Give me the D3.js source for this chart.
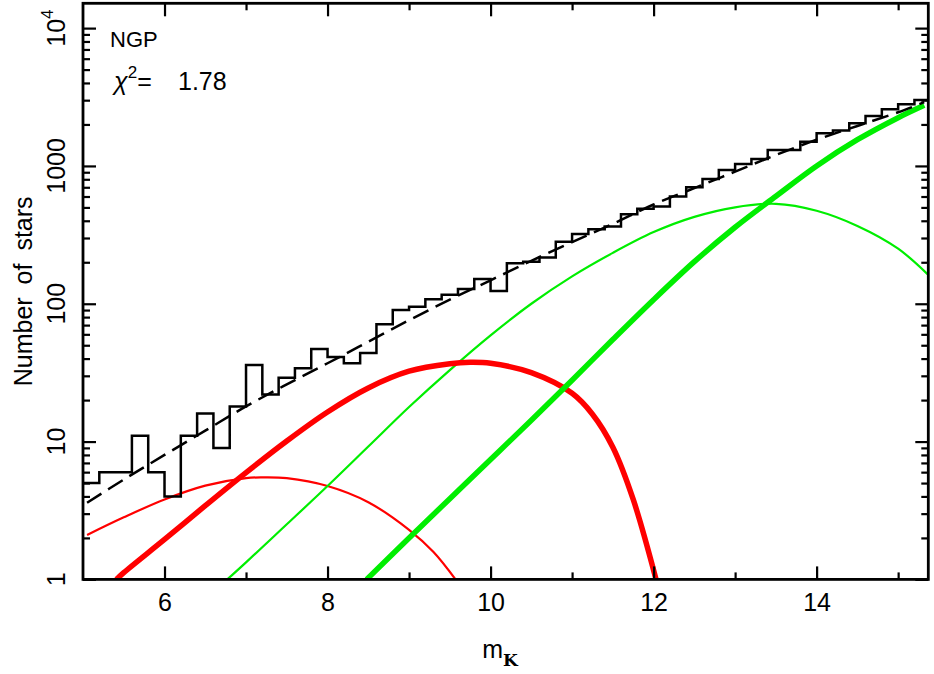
<!DOCTYPE html>
<html>
<head>
<meta charset="utf-8">
<script src="https://cdn.jsdelivr.net/npm/d3@7"></script>
<style>
  body { margin: 0; background: #fff; }
  svg { display: block; font-family: "Liberation Sans", Arial, sans-serif; }
  .domain { display: none; }
  .tick line { stroke: #000; stroke-width: 2.2; }
</style>
</head>
<body>
<div id="chart"></div>
<script>
// histogram of star counts, 0.2 mag bins (edges)
let binEdges = [5.0, 5.2, 5.4, 5.6, 5.8, 6.0, 6.2, 6.4, 6.6, 6.8, 7.0, 7.2, 7.4, 7.6, 7.8,
  8.0, 8.2, 8.4, 8.6, 8.8, 9.0, 9.2, 9.4, 9.6, 9.8, 10.0, 10.2, 10.4, 10.6, 10.8,
  11.0, 11.2, 11.4, 11.6, 11.8, 12.0, 12.2, 12.4, 12.6, 12.8, 13.0, 13.2, 13.4, 13.6,
  13.8, 14.0, 14.2, 14.4, 14.6, 14.8, 15.0, 15.2, 15.4];
let binCounts = [5, 6, 6, 11, 6, 4, 11, 16, 9, 18, 36, 22, 29, 34, 47,
  41, 37, 44, 71, 90, 95, 108, 116, 128, 151, 124, 197, 202, 217, 282,
  321, 347, 363, 446, 488, 507, 599, 700, 805, 935, 1033, 1124, 1306, 1306,
  1500, 1727, 1804, 2042, 2307, 2578, 2805, 3014];

// total model (dashed)
let totalMag = [5.05, 5.5, 6.0, 6.5, 7.0, 7.5, 8.0, 8.5, 9.0, 9.5, 10.0, 10.5, 11.0, 11.5, 12.0, 12.5, 13.0, 13.5, 14.0, 14.5, 15.0, 15.32];
let totalVal = [3.6, 5.3, 8.0, 12, 18, 26, 37, 53, 76, 107, 148, 205, 280, 380, 525, 690, 910, 1200, 1550, 1950, 2450, 2900];

// thin red component
let redThinMag = [5.05, 5.5, 6.0, 6.5, 7.0, 7.2, 7.5, 8.0, 8.5, 9.0, 9.3, 9.57];
let redThinVal = [2.1, 2.82, 3.8, 4.79, 5.43, 5.5, 5.43, 4.76, 3.63, 2.29, 1.58, 1.0];

// thick red component
let redThickMag = [5.41, 5.5, 6.0, 6.5, 7.0, 7.5, 8.0, 8.5, 9.0, 9.5, 9.75, 10.0, 10.5, 11.0, 11.25, 11.5, 11.75, 12.03];
let redThickVal = [1.0, 1.12, 1.95, 3.43, 5.96, 10.1, 16.4, 24.5, 32.4, 36.7, 37.6, 37.0, 31.6, 22.4, 15.8, 9.1, 3.8, 1.0];

// thin green component
let greenThinMag = [6.77, 7.0, 7.5, 8.0, 8.5, 9.0, 9.5, 10.0, 10.5, 11.0, 11.5, 12.0, 12.5, 13.0, 13.5, 14.0, 14.5, 15.0, 15.37];
let greenThinVal = [1.0, 1.33, 2.51, 4.76, 9.2, 17.8, 33, 59, 100, 158, 234, 331, 427, 501, 531, 473, 367, 251, 162];

// thick green component
let greenThickMag = [8.48, 9.0, 9.5, 10.0, 10.5, 11.0, 11.5, 12.0, 12.5, 13.0, 13.5, 14.0, 14.5, 15.0, 15.32];
let greenThickVal = [1.0, 2.0, 3.85, 7.41, 14.3, 27.9, 55, 107, 202, 359, 603, 1000, 1549, 2239, 2754];

let xMajor = [6, 8, 10, 12, 14];
let xMinor = [7, 9, 11, 13, 15];
let yMajor = [1, 10, 100, 1000, 10000];
let yLabels = ['1', '10', '100', '1000', '10^4'];

let W = 934, H = 674;
let L = 83, R = 928.3, T = 3.3, B = 579.4;

let svg = d3.select('#chart').append('svg').attr('width', W).attr('height', H);

let x = d3.scaleLinear().domain([5, 15.37]).range([L, R]);
let y = d3.scaleLog().domain([1, Math.pow(10, 4.18)]).range([B, T]);

// minor y ticks 2..9 per decade
let yMinor = [];
[1, 10, 100, 1000].forEach(d => { for (let k = 2; k <= 9; k++) yMinor.push(d * k); });

svg.append('clipPath').attr('id', 'clip').append('rect')
    .attr('x', L).attr('y', T).attr('width', R - L).attr('height', B - T);
let marks = svg.append('g').attr('clip-path', 'url(#clip)');

function curve(mags, vals) {
  return d3.line().x((d, i) => x(mags[i])).y(d => y(d)).curve(d3.curveCatmullRom.alpha(0.5))(vals);
}

// components
marks.append('path').attr('d', curve(redThinMag, redThinVal))
    .attr('fill', 'none').attr('stroke', '#ff0000').attr('stroke-width', 2.2);
marks.append('path').attr('d', curve(greenThinMag, greenThinVal))
    .attr('fill', 'none').attr('stroke', '#00ee00').attr('stroke-width', 2.2);
marks.append('path').attr('d', curve(redThickMag, redThickVal))
    .attr('fill', 'none').attr('stroke', '#ff0000').attr('stroke-width', 5.5);
marks.append('path').attr('d', curve(greenThickMag, greenThickVal))
    .attr('fill', 'none').attr('stroke', '#00ee00').attr('stroke-width', 5.5);

// total model dashed
marks.append('path').attr('d', curve(totalMag, totalVal))
    .attr('fill', 'none').attr('stroke', '#000').attr('stroke-width', 2.5)
    .attr('stroke-dasharray', '17,8');

// histogram
let histPts = [];
binCounts.forEach((c, i) => {
  histPts.push([x(binEdges[i]), y(c)]);
  histPts.push([x(binEdges[i + 1]), y(c)]);
});
marks.append('path').attr('d', d3.line()(histPts))
    .attr('fill', 'none').attr('stroke', '#000').attr('stroke-width', 2.5);

// axes, ticks pointing inward
svg.append('g').attr('transform', `translate(0, ${B})`)
    .call(d3.axisBottom(x).tickValues(xMajor).tickSizeInner(-13).tickSizeOuter(0).tickPadding(14).tickFormat(d3.format('d')))
    .call(g => g.selectAll('text').attr('font-size', 25).attr('fill', '#000').attr('font-family', '"Liberation Sans", Arial, sans-serif'));
svg.append('g').attr('transform', `translate(0, ${B})`)
    .call(d3.axisBottom(x).tickValues(xMinor).tickSizeInner(-7).tickSizeOuter(0).tickFormat(''));
svg.append('g').attr('transform', `translate(0, ${T})`)
    .call(d3.axisTop(x).tickValues(xMajor).tickSizeInner(-13).tickSizeOuter(0).tickFormat(''));
svg.append('g').attr('transform', `translate(0, ${T})`)
    .call(d3.axisTop(x).tickValues(xMinor).tickSizeInner(-7).tickSizeOuter(0).tickFormat(''));

svg.append('g').attr('transform', `translate(${L}, 0)`)
    .call(d3.axisLeft(y).tickValues(yMajor).tickSizeInner(-13).tickSizeOuter(0).tickFormat(''));
svg.append('g').attr('transform', `translate(${L}, 0)`)
    .call(d3.axisLeft(y).tickValues(yMinor).tickSizeInner(-7).tickSizeOuter(0).tickFormat(''));
svg.append('g').attr('transform', `translate(${R}, 0)`)
    .call(d3.axisRight(y).tickValues(yMajor).tickSizeInner(-13).tickSizeOuter(0).tickFormat(''));
svg.append('g').attr('transform', `translate(${R}, 0)`)
    .call(d3.axisRight(y).tickValues(yMinor).tickSizeInner(-7).tickSizeOuter(0).tickFormat(''));

// frame
svg.append('rect').attr('x', L).attr('y', T).attr('width', R - L).attr('height', B - T)
    .attr('fill', 'none').attr('stroke', '#000').attr('stroke-width', 2.8);

// rotated y tick labels
yMajor.forEach((v, i) => {
  let t = svg.append('text')
      .attr('transform', `translate(65, ${y(v)}) rotate(-90)`)
      .attr('text-anchor', 'middle').attr('font-size', 25);
  if (yLabels[i] === '10^4') {
    t.append('tspan').text('10');
    t.append('tspan').text('4').attr('font-size', 17).attr('dy', -12);
  } else {
    t.text(yLabels[i]);
  }
});

// axis titles
svg.append('text').attr('transform', `translate(32, ${(T + B) / 2}) rotate(-90)`)
    .attr('text-anchor', 'middle').attr('font-size', 25).attr('word-spacing', 6)
    .text('Number of stars');

let xt = svg.append('text').attr('x', 500).attr('y', 658).attr('text-anchor', 'middle').attr('font-size', 25);
xt.append('tspan').text('m');
xt.append('tspan').text('K').attr('font-size', 17).attr('font-weight', 'bold')
    .attr('font-family', '"DejaVu Serif", serif').attr('dy', 8);

// annotations
svg.append('text').attr('x', 110).attr('y', 47).attr('font-size', 22).text('NGP');
let chi = svg.append('text').attr('y', 90).attr('font-size', 25);
chi.append('tspan').attr('x', 114).text('χ').attr('font-style', 'italic');
chi.append('tspan').text('2').attr('font-size', 17).attr('dy', -12);
chi.append('tspan').text('=').attr('dy', 12);
chi.append('tspan').attr('x', 178).text('1.78');
</script>
</body>
</html>
